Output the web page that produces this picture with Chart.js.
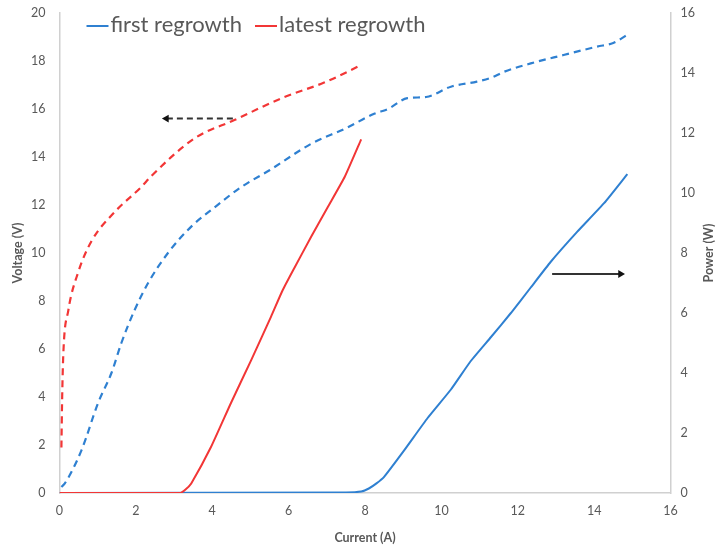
<!DOCTYPE html>
<html>
<head>
<meta charset="utf-8">
<script src="https://cdn.jsdelivr.net/npm/chart.js@4/dist/chart.umd.min.js"></script>
<style>
  html,body{margin:0;padding:0;background:#fff;}
  #wrap{width:716px;height:546px;}
</style>
</head>
<body>
<div id="wrap"><canvas id="c" width="716" height="546"></canvas></div>
<script>
// ---- data ----
const seriesNames = ["first regrowth", "latest regrowth"];

// first regrowth – voltage (V), dashed, left axis
const firstVoltX = [0.05,0.14,0.58,1.01,1.36,1.62,1.96,2.32,2.84,3.45,4.06,4.76,5.5,6.59,7.5,8.24,8.6,9.11,9.6,10.25,10.93,11.3,11.64,12.34,13.2,14.08,14.5,14.86];
const firstVoltY = [0.25,0.4,1.8,3.75,5.0,6.25,7.6,8.75,10.0,11.1,11.9,12.75,13.45,14.55,15.2,15.8,16.0,16.45,16.5,16.93,17.14,17.3,17.55,17.9,18.25,18.6,18.75,19.08];

// latest regrowth – voltage (V), dashed, left axis
const latestVoltX = [0.05,0.07,0.1,0.23,0.49,0.84,1.44,2.14,2.4,3.54,4.58,5.89,6.93,7.9];
const latestVoltY = [1.9,4.0,5.8,7.6,9.2,10.5,11.7,12.75,13.2,14.78,15.54,16.5,17.1,17.83];

// first regrowth – power (W), solid, right axis
const firstPowX = [0,7.5,7.9,8.1,8.3,8.5,9.03,9.64,10.25,10.77,11.3,11.82,12.34,12.86,13.56,14.26,14.87];
const firstPowY = [0,0.02,0.05,0.15,0.32,0.54,1.43,2.5,3.45,4.4,5.2,6.0,6.85,7.7,8.71,9.66,10.63];

// latest regrowth – power (W), solid, right axis
const latestPowX = [0,3.15,3.3,3.45,3.97,4.49,5.02,5.54,5.84,6.15,6.59,7.03,7.47,7.9];
const latestPowY = [0,0,0.12,0.32,1.54,3.0,4.43,5.88,6.75,7.5,8.54,9.54,10.54,11.79];

// annotation arrows
const voltArrowX = [4.54, 2.8];   const voltArrowY = [15.6, 15.6];  // left axis
const powArrowX  = [12.9, 14.69]; const powArrowY  = [7.3, 7.3];    // right axis

// ticks
const xTicks = {min:0, max:16, step:2};
const vTicks = {min:0, max:20, step:2};
const pTicks = {min:0, max:16, step:2};

const BLUE = '#2f80d1';
const RED  = '#f23636';
const GREY = '#595959';
const AXIS = '#d0d0d0';
const FONT = "Lato, 'Open Sans', 'Liberation Sans', sans-serif";

const pts = (xs, ys) => xs.map((x,i)=>({x:x, y:ys[i]}));

const datasets = [
  { label: seriesNames[1], data: pts(latestPowX, latestPowY), yAxisID:'y2',
    borderColor: RED, backgroundColor: RED, borderWidth: 2, pointRadius: 0,
    showLine: true, tension: 0.15, legendOrder: 1 },
  { label: seriesNames[0], data: pts(firstPowX, firstPowY), yAxisID:'y2',
    borderColor: BLUE, backgroundColor: BLUE, borderWidth: 2, pointRadius: 0,
    showLine: true, tension: 0.15, legendOrder: 0 },
  { label: 'firstV', data: pts(firstVoltX, firstVoltY), yAxisID:'y',
    borderColor: BLUE, backgroundColor: BLUE, borderWidth: 2.2, borderDash:[7,5], pointRadius: 0,
    showLine: true, cubicInterpolationMode: 'monotone', hideLegend: true },
  { label: 'latestV', data: pts(latestVoltX, latestVoltY), yAxisID:'y',
    borderColor: RED, backgroundColor: RED, borderWidth: 2.2, borderDash:[7,5], pointRadius: 0,
    showLine: true, cubicInterpolationMode: 'monotone', hideLegend: true },
  { label: 'arrowV', data: pts(voltArrowX, voltArrowY), yAxisID:'y',
    borderColor: '#333', backgroundColor: '#111', borderWidth: 2, borderDash:[6,4],
    pointRadius: [0,4.5], pointStyle: 'triangle', rotation: -90, pointBorderWidth: 0,
    showLine: true, hideLegend: true },
  { label: 'arrowP', data: pts(powArrowX, powArrowY), yAxisID:'y2',
    borderColor: '#333', backgroundColor: '#111', borderWidth: 2,
    pointRadius: [0,4.5], pointStyle: 'triangle', rotation: 90, pointBorderWidth: 0,
    showLine: true, hideLegend: true }
];

const tickFont = {family: FONT, size: 12.5};
const titleFont = {family: FONT, size: 12.5, weight: 'bold'};

// legend drawn inside the plot area, as in the reference
const insideLegend = {
  id: 'insideLegend',
  afterDraw(chart) {
    const ctx = chart.ctx, ca = chart.chartArea;
    const items = chart.data.datasets.filter(d => !d.hideLegend)
      .sort((a,b) => a.legendOrder - b.legendOrder);
    let x = ca.left + 27;
    const y = ca.top + 12;
    ctx.save();
    ctx.font = "22px " + FONT;
    ctx.textBaseline = 'middle';
    ctx.textAlign = 'left';
    items.forEach(d => {
      ctx.strokeStyle = d.borderColor;
      ctx.lineWidth = 2;
      ctx.setLineDash([]);
      ctx.beginPath(); ctx.moveTo(x, y + 1); ctx.lineTo(x + 22, y + 1); ctx.stroke();
      x += 24;
      ctx.fillStyle = GREY;
      ctx.fillText(d.label, x, y);
      x += ctx.measureText(d.label).width + 13;
    });
    ctx.restore();
  }
};

// vertical axis titles reading bottom-to-top, as in the reference
const axisTitles = {
  id: 'axisTitles',
  afterDraw(chart) {
    const ctx = chart.ctx, ca = chart.chartArea;
    const cy = (ca.top + ca.bottom) / 2;
    [[18, 'Voltage (V)'], [chart.width - 7, 'Power (W)']].forEach(([cx, text]) => {
      ctx.save();
      ctx.translate(cx, cy);
      ctx.rotate(-Math.PI / 2);
      ctx.font = "bold 12.5px " + FONT;
      ctx.fillStyle = GREY;
      ctx.textAlign = 'center';
      ctx.textBaseline = 'middle';
      ctx.fillText(text, 0, 0);
      ctx.restore();
    });
  }
};

const trimPad = (scale) => { scale.paddingTop = 13; scale.paddingBottom = 8; };

new Chart(document.getElementById('c'), {
  type: 'scatter',
  data: { datasets },
  plugins: [insideLegend, axisTitles],
  options: {
    responsive: false,
    animation: false,
    layout: { padding: { left: 17, right: 11, top: 0, bottom: 1 } },
    plugins: {
      tooltip: { enabled: false },
      legend: { display: false }
    },
    scales: {
      x: {
        type: 'linear', min: xTicks.min, max: xTicks.max,
        ticks: { stepSize: xTicks.step, color: GREY, font: tickFont, padding: 10 },
        grid: { drawOnChartArea: false, drawTicks: false },
        border: { color: AXIS, width: 1.5 },
        title: { display: true, text: 'Current (A)', color: GREY, font: titleFont, padding: {top: 2, bottom: 0} }
      },
      y: {
        type: 'linear', position: 'left', min: vTicks.min, max: vTicks.max,
        ticks: { stepSize: vTicks.step, color: GREY, font: tickFont, padding: 14 },
        grid: { drawOnChartArea: false, drawTicks: false },
        border: { color: AXIS, width: 1.5 },
        afterFit: trimPad
      },
      y2: {
        type: 'linear', position: 'right', min: pTicks.min, max: pTicks.max,
        ticks: { stepSize: pTicks.step, color: GREY, font: tickFont, padding: 10 },
        grid: { drawOnChartArea: false, drawTicks: false },
        border: { color: AXIS, width: 1.5 },
        afterFit: trimPad
      }
    }
  }
});
</script>
</body>
</html>
